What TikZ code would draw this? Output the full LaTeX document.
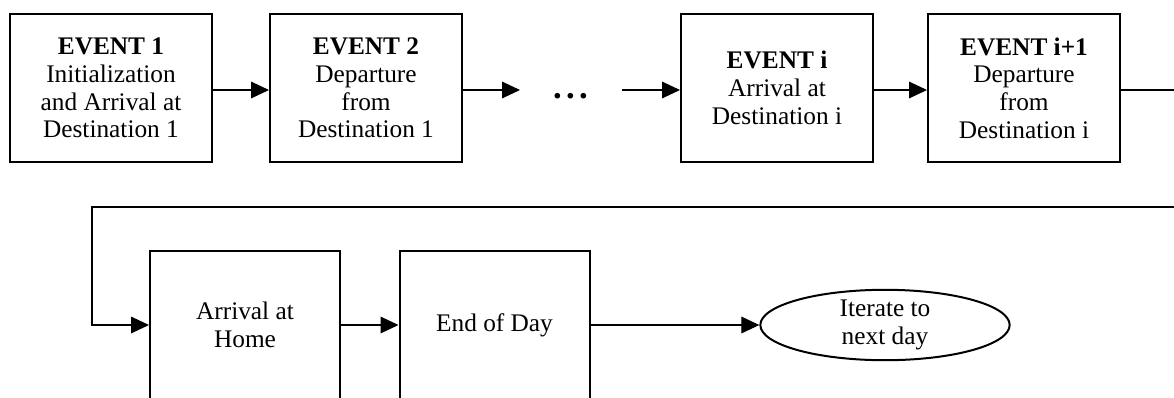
\documentclass[tikz,border=0pt]{standalone}
\usepackage{fontspec}
\setmainfont{Liberation Serif}
\usetikzlibrary{arrows.meta,shapes.geometric}
\begin{document}
\begin{tikzpicture}[x=0.75pt,y=-0.75pt,
  evbox/.style={draw,line width=1.5pt,minimum height=111pt,inner sep=0pt,
    align=center,font=\fontsize{19}{20.8}\selectfont},
  oval/.style={draw,ellipse,line width=1.5pt,minimum width=187pt,minimum height=52pt,
    inner sep=0pt,align=center,font=\fontsize{19}{20.8}\selectfont},
  conn/.style={line width=0.9pt,-{Triangle[length=13.5pt,width=12.5pt]}}]
\useasboundingbox (0,0) rectangle (1174,397);
\clip (0,0) rectangle (1174,397);
\node[evbox,minimum width=151.5pt] (e1) at (111,88)
  {\textbf{EVENT 1}\\Initialization\\and Arrival at\\Destination 1};
\node[evbox,minimum width=144pt] (e2) at (366,88)
  {\textbf{EVENT 2}\\Departure\\from\\Destination 1};
\node[evbox,minimum width=144pt] (ei) at (777,88)
  {\textbf{EVENT i}\\Arrival at\\Destination i};
\node[evbox,minimum width=144pt] (ei1) at (1024,88)
  {\textbf{EVENT i+1}\\Departure\\from\\Destination i};
\node[font=\fontsize{26}{26}\selectfont\bfseries,anchor=base,inner sep=0pt] (dots) at (570.5,98)
  {.\kern3.2pt.\kern3.2pt.};
\coordinate (c1) at (520,90);
\coordinate (c2) at (622,90);
\node[evbox,minimum width=142.5pt] (home) at (245,325) {Arrival at\\Home};
\node[evbox,minimum width=142.5pt] (eod) at (494.5,325) {End of Day};
\node[oval] (iter) at (885,325) {Iterate to\\next day};

\draw[conn] (e1.east |- 0,90) -- (e2.west |- 0,90);
\draw[conn] (e2.east |- 0,90) -- (c1);
\draw[conn] (c2) -- (ei.west |- c2);
\draw[conn] (ei.east |- 0,90) -- (ei1.west |- 0,90);
\draw[conn] (ei1.east |- 0,90) -- (1190,90) -- (1190,207) -- (92,207) |- (home.west);
\draw[conn] (home.east) -- (eod.west);
\draw[conn] (eod.east) -- (iter.west);
\end{tikzpicture}
\end{document}
